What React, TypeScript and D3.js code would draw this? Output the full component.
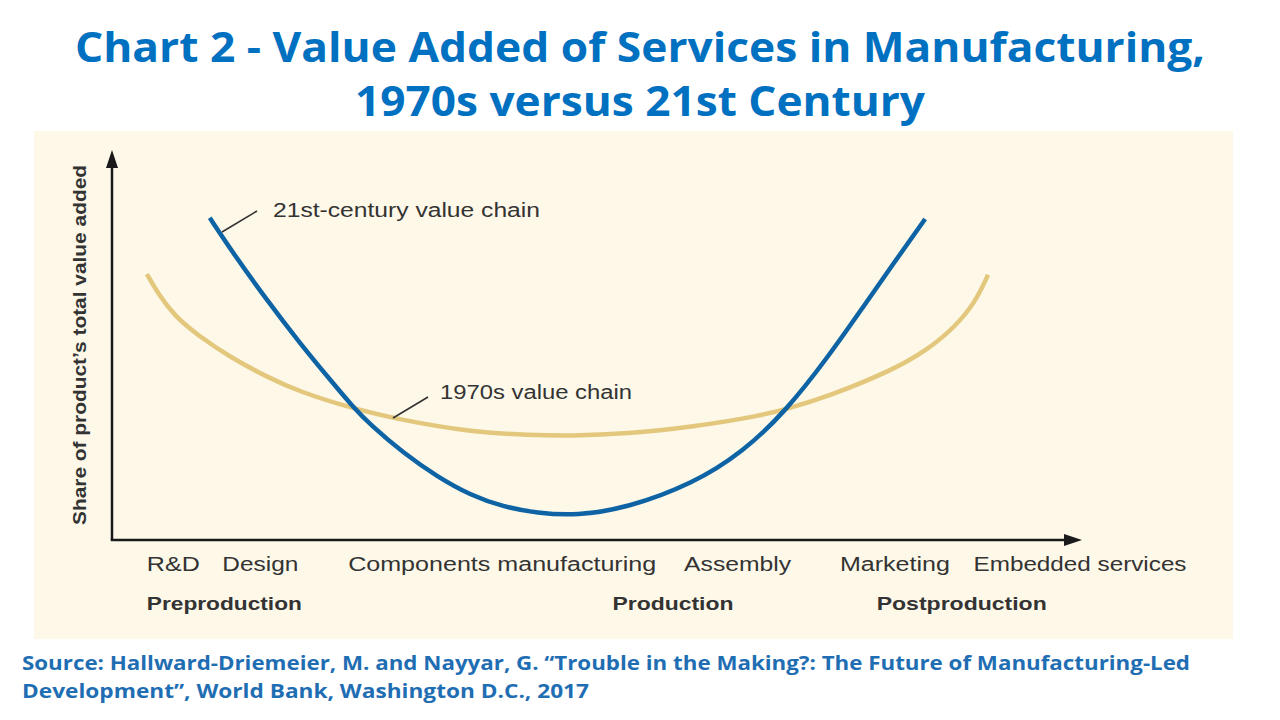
import React from "react";
import * as d3 from "d3";

// ---- data (x: position along value chain 0-100, y: share of value added 0-100)
const centuryX = [10.1, 12.5, 16.0, 19.4, 22.8, 24.8, 26.7, 30.1, 33.6, 37.0, 40.4, 43.9, 48.0, 53.2, 60.0, 65.2, 69.7, 73.9, 77.3, 80.7, 84.0];
const centuryY = [82.6, 73.6, 61.5, 50.5, 40.3, 34.4, 29.5, 22.3, 16.2, 11.5, 8.5, 6.9, 6.2, 8.2, 14.4, 22.6, 33.3, 46.7, 58.7, 70.8, 82.3];
const seventiesX = [3.6, 4.9, 6.5, 8.8, 12.2, 16.0, 19.4, 24.6, 29.8, 37.0, 43.2, 47.3, 53.2, 60.0, 66.9, 69.7, 73.9, 80.7, 84.2, 87.0, 89.2, 90.5];
const seventiesY = [68.2, 62.6, 57.4, 52.6, 46.9, 41.8, 38.0, 33.9, 30.8, 27.7, 26.9, 26.7, 27.2, 29.0, 31.8, 33.6, 36.7, 43.6, 48.7, 54.4, 61.0, 68.0];

const stageLabels = ["R&D", "Design", "Components manufacturing", "Assembly", "Marketing", "Embedded services"];
const stagePos = [3.6, 11.4, 24.4, 59.1, 75.2, 89.0];
const phaseLabels = ["Preproduction", "Production", "Postproduction"];
const phasePos = [3.6, 51.7, 79.0];

const titleLines = ["Chart 2 - Value Added of Services in Manufacturing,", "1970s versus 21st Century"];
const sourceLines = [
  "Source: Hallward-Driemeier, M. and Nayyar, G. \u201cTrouble in the Making?: The Future of Manufacturing-Led",
  "Development\u201d, World Bank, Washington D.C., 2017",
];

export default function App() {
  const W = 1280, H = 720;
  const x = d3.scaleLinear().domain([0, 100]).range([112, 1080]);
  const y = d3.scaleLinear().domain([0, 100]).range([540, 150]);
  const line = d3
    .line<[number, number]>()
    .x((d) => x(d[0]))
    .y((d) => y(d[1]))
    .curve(d3.curveBasis);
  const century = centuryX.map((v, i) => [v, centuryY[i]] as [number, number]);
  const seventies = seventiesX.map((v, i) => [v, seventiesY[i]] as [number, number]);

  // rendered widths of the label texts (layout)
  const stageW = [53, 76, 308, 107, 110, 213];
  const phaseW = [155, 121, 170];

  const blue = "#0E63A5";
  const gold = "#E3C77C";
  const axisCol = "#1a1a1a";
  const textCol = "#333333";
  const titleCol = "#0070C0";
  const srcCol = "#1F6EB3";
  const sans = "'Liberation Sans', Arial, Helvetica, sans-serif";
  const cal = "'Open Sans', 'Noto Sans', sans-serif";

  return (
    <svg width={W} height={H} style={{ position: "absolute", left: 0, top: 0, background: "#fff" }}>
      <rect x={0} y={0} width={W} height={H} fill="#ffffff" />
      {/* title */}
      <text x={640} y={62} textAnchor="middle" fill={titleCol} fontFamily={cal} fontWeight={700} fontSize={42}
        textLength={1130} lengthAdjust="spacingAndGlyphs">{titleLines[0]}</text>
      <text x={640} y={116} textAnchor="middle" fill={titleCol} fontFamily={cal} fontWeight={700} fontSize={42}
        textLength={570} lengthAdjust="spacingAndGlyphs">{titleLines[1]}</text>

      {/* panel */}
      <rect x={34} y={131} width={1199} height={508} fill="#FDF8E8" />

      {/* axes */}
      <line x1={x(0)} y1={y(0)} x2={x(0)} y2={166} stroke={axisCol} strokeWidth={2.5} />
      <path d={`M${x(0) - 6},${168} L${x(0)},${150} L${x(0) + 6},${168} Z`} fill={axisCol} />
      <line x1={x(0) - 1.25} y1={y(0)} x2={1066} y2={y(0)} stroke={axisCol} strokeWidth={2.5} />
      <path d={`M${1064},${y(0) - 6} L${1082},${y(0)} L${1064},${y(0) + 6} Z`} fill={axisCol} />

      {/* curves */}
      <path d={line(seventies) || ""} fill="none" stroke={gold} strokeWidth={4.5} />
      <path d={line(century) || ""} fill="none" stroke={blue} strokeWidth={4.5} />

      {/* annotations */}
      <line x1={222} y1={232} x2={257} y2={211} stroke={textCol} strokeWidth={1.6} />
      <text x={273} y={217} fill={textCol} fontFamily={sans} fontSize={19.5}
        textLength={267} lengthAdjust="spacingAndGlyphs">21st-century value chain</text>
      <line x1={393} y1={418} x2={428} y2={397} stroke={textCol} strokeWidth={1.6} />
      <text x={440} y={399} fill={textCol} fontFamily={sans} fontSize={19.5}
        textLength={192} lengthAdjust="spacingAndGlyphs">1970s value chain</text>

      {/* y label */}
      <text transform={`translate(86,${345}) rotate(-90)`} textAnchor="middle" fill={textCol} fontFamily={sans}
        fontWeight={700} fontSize={17.5} textLength={360} lengthAdjust="spacingAndGlyphs">
        Share of product’s total value added
      </text>

      {/* stage labels */}
      {stageLabels.map((s, i) => (
        <text key={s} x={x(stagePos[i])} y={571} fill={textCol} fontFamily={sans} fontSize={20}
          textLength={stageW[i]} lengthAdjust="spacingAndGlyphs">{s}</text>
      ))}
      {phaseLabels.map((s, i) => (
        <text key={s} x={x(phasePos[i])} y={610} fill={textCol} fontFamily={sans} fontWeight={700} fontSize={19}
          textLength={phaseW[i]} lengthAdjust="spacingAndGlyphs">{s}</text>
      ))}

      {/* source */}
      <text x={22} y={670} fill={srcCol} fontFamily={cal} fontWeight={700} fontSize={19.5}
        textLength={1168} lengthAdjust="spacingAndGlyphs">{sourceLines[0]}</text>
      <text x={22} y={698} fill={srcCol} fontFamily={cal} fontWeight={700} fontSize={19.5}
        textLength={567} lengthAdjust="spacingAndGlyphs">{sourceLines[1]}</text>
    </svg>
  );
}
